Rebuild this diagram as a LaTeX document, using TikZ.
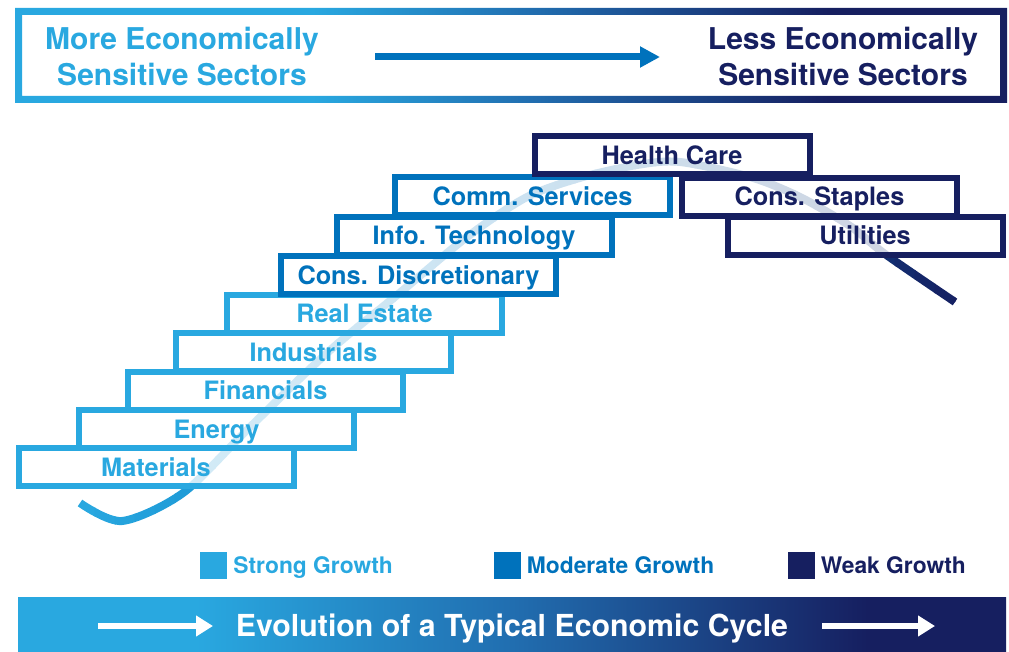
\documentclass[tikz,border=0pt]{standalone}
\usepackage{fontspec}
\setmainfont{TeX Gyre Heros}
\usepackage{tikz}
\usetikzlibrary{arrows.meta,positioning}

\definecolor{lightB}{RGB}{41,168,224}
\definecolor{modB}{RGB}{0,114,188}
\definecolor{navyD}{RGB}{22,31,96}
\definecolor{midB}{RGB}{33,110,176}
\pgfdeclarehorizontalshading{framefade}{100bp}{color(0bp)=(lightB); color(40bp)=(lightB); color(51bp)=(midB); color(66bp)=(navyD); color(100bp)=(navyD)}
\pgfdeclarehorizontalshading{barfade}{100bp}{color(0bp)=(lightB); color(34bp)=(lightB); color(50bp)=(midB); color(68bp)=(navyD); color(100bp)=(navyD)}

\begin{document}
\begin{tikzpicture}[x=1pt,y=-1pt,>={Triangle[length=20pt,width=20pt]}]
	\useasboundingbox (0,0) rectangle (1009,652);
	\tikzset{sector/.style={draw,line width=6pt,fill=white,fill opacity=0.8,draw opacity=1,text opacity=1,minimum width=275pt,minimum height=38pt,inner sep=0pt,text height=18pt,text depth=0pt,font=\fontsize{25.3}{30}\selectfont\bfseries}}
	\tikzset{toptext/.style={align=center,inner sep=0pt,font=\fontsize{30}{36}\selectfont\bfseries}}
	\tikzset{legendsq/.style={minimum size=27pt,inner sep=0pt}}
	\tikzset{legendtxt/.style={inner sep=0pt,text height=16.4pt,text depth=0pt,font=\fontsize{22.8}{26}\selectfont\bfseries}}
	\tikzset{wave/.style={line width=8pt,line cap=butt}}
	% top banner
	\shade[shading=framefade,even odd rule] (15,8) rectangle (1007,103) (22,15) rectangle (1000,96);
	\node[toptext,text=lightB] (more) at (182,57) {More Economically\\Sensitive Sectors};
	\node[toptext,text=navyD] (less) at (843,57) {Less Economically\\Sensitive Sectors};
	\coordinate (topA) at (375,57);
	\coordinate (topB) at (660,57);
	\draw[->,modB,line width=7pt] (topA) -- (topB);
	% the cycle curve, coloured strip by strip
	\foreach \i in {0,...,44} {
		\pgfmathsetmacro{\xa}{75+20*\i}
		\pgfmathtruncatemacro{\pa}{max(0,100-200*\i/44)}
		\pgfmathtruncatemacro{\pb}{min(100,200-200*\i/44)}
		\begin{scope}
			\clip (\xa-0.5,100) rectangle (\xa+20.5,560);
			\draw[wave,draw=lightB!\pa!modB!\pb!navyD] plot[smooth,tension=0.5] coordinates {(80,503) (122,521) (183,493) (247,430) (327,353) (396,296) (467,237) (527,197) (583,177) (637,165) (680,162) (750,177) (800,197) (850,226) (885,254) (955,302)};
		\end{scope}
	}
	% sectors
	\node[sector,draw=lightB,text=lightB] (materials) at (156,467) {Materials};
	\node[sector,draw=lightB,text=lightB] (energy) at (216.5,429) {Energy};
	\node[sector,draw=lightB,text=lightB] (financials) at (265.5,390.5) {Financials};
	\node[sector,draw=lightB,text=lightB] (industrials) at (313.5,352) {Industrials};
	\node[sector,draw=lightB,text=lightB] (realestate) at (364.5,314) {Real Estate};
	\node[sector,draw=modB,text=modB] (consdisc) at (418.5,275) {Cons. Discretionary};
	\node[sector,draw=modB,text=modB] (infotech) at (474,236) {Info. Technology};
	\node[sector,draw=modB,text=modB] (commserv) at (532.5,196.5) {Comm. Services};
	\node[sector,draw=navyD,text=navyD] (utilities) at (865,236) {Utilities};
	\node[sector,draw=navyD,text=navyD] (staples) at (819.5,197) {Cons. Staples};
	\node[sector,draw=navyD,text=navyD] (health) at (672,155.5) {Health Care};
	% legend
	\node[legendsq,fill=lightB] (strongsq) at (213.5,565.5) {};
	\node[legendtxt,text=lightB,right=6pt of strongsq] (strong) {Strong Growth};
	\node[legendsq,fill=modB] (modsq) at (507,565.5) {};
	\node[legendtxt,text=modB,right=6pt of modsq] (moderate) {Moderate Growth};
	\node[legendsq,fill=navyD] (weaksq) at (801,565.5) {};
	\node[legendtxt,text=navyD,right=6pt of weaksq] (weak) {Weak Growth};
	% bottom bar
	\shade[shading=barfade] (18,597) rectangle (1006,652);
	\node[inner sep=0pt,text=white,text height=21.8pt,text depth=0pt,font=\fontsize{30.3}{36}\selectfont\bfseries] (cycle) at (512,626) {Evolution of a Typical Economic Cycle};
	\coordinate (barA) at (98,626);
	\coordinate (barB) at (213,626);
	\coordinate (barC) at (822,626);
	\coordinate (barD) at (935,626);
	\draw[-{Triangle[length=17pt,width=20pt]},white,line width=6pt] (barA) -- (barB);
	\draw[-{Triangle[length=17pt,width=20pt]},white,line width=6pt] (barC) -- (barD);
\end{tikzpicture}
\end{document}
